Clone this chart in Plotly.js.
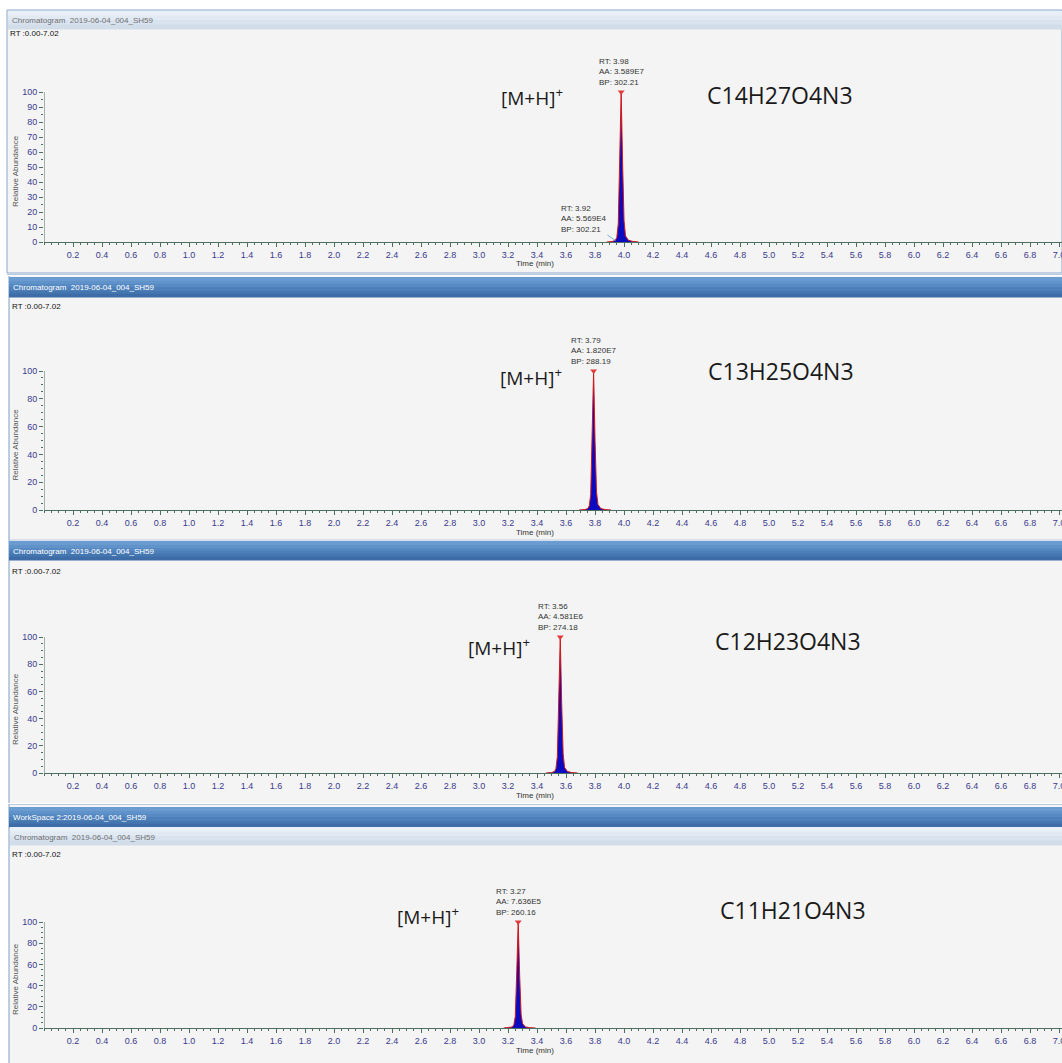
<!DOCTYPE html>
<html><head><meta charset="utf-8">
<script src="https://cdn.plot.ly/plotly-3.0.1.min.js"></script>
<style>html,body{margin:0;padding:0;background:#fff;overflow:hidden}#chart{width:1062px;height:1063px}</style>
</head><body><div id="chart"></div>
<script>
// ---------------- data ----------------
const formulas = ['C14H27O4N3', 'C13H25O4N3', 'C12H23O4N3', 'C11H21O4N3'];
const peakRT = [3.98, 3.79, 3.56, 3.27];
const peakAA = ['3.589E7', '1.820E7', '4.581E6', '7.636E5'];
const peakBP = ['302.21', '288.19', '274.18', '260.16'];
const peakTop = [100, 100, 100, 100];

const time1 = [3.88, 3.92, 3.94, 3.95, 3.96, 3.97, 3.98, 3.99, 4.00, 4.01, 4.03, 4.06, 4.10];
const abund1 = [0, 0.4, 1.2, 3, 12, 55, 100, 52, 14, 4, 1.2, 0.4, 0];
const time2 = [3.69, 3.73, 3.75, 3.76, 3.77, 3.78, 3.79, 3.80, 3.81, 3.82, 3.84, 3.87, 3.91];
const abund2 = [0, 0.3, 1.0, 3, 11, 52, 100, 50, 13, 4, 1.0, 0.3, 0];
const time3 = [3.46, 3.50, 3.52, 3.53, 3.54, 3.55, 3.56, 3.57, 3.58, 3.59, 3.61, 3.64, 3.68];
const abund3 = [0, 0.3, 1.1, 3, 12, 54, 100, 51, 14, 4, 1.1, 0.3, 0];
const time4 = [3.17, 3.21, 3.23, 3.24, 3.25, 3.26, 3.27, 3.28, 3.29, 3.30, 3.32, 3.35, 3.39];
const abund4 = [0, 0.3, 1.0, 3, 11, 53, 100, 50, 13, 4, 1.0, 0.3, 0];

const minorRT = 3.92, minorAA = '5.569E4', minorBP = '302.21';

const xTickVals = [0.2,0.4,0.6,0.8,1.0,1.2,1.4,1.6,1.8,2.0,2.2,2.4,2.6,2.8,3.0,3.2,3.4,3.6,3.8,4.0,4.2,4.4,4.6,4.8,5.0,5.2,5.4,5.6,5.8,6.0,6.2,6.4,6.6,6.8,7.0];
const xTickText = ['0.2','0.4','0.6','0.8','1.0','1.2','1.4','1.6','1.8','2.0','2.2','2.4','2.6','2.8','3.0','3.2','3.4','3.6','3.8','4.0','4.2','4.4','4.6','4.8','5.0','5.2','5.4','5.6','5.8','6.0','6.2','6.4','6.6','6.8','7.0'];
const yTicks10 = [0,10,20,30,40,50,60,70,80,90,100];
const yTicks20 = [0,20,40,60,80,100];
const yMinor = [5,10,15,20,25,30,35,40,45,50,55,60,65,70,75,80,85,90,95];
const headerTitle = 'Chromatogram\u00a0 2019-06-04_004_SH59';
const workspaceTitle = 'WorkSpace 2:2019-06-04_004_SH59';
const rtRange = 'RT :0.00-7.02';

// ---------------- layout geometry (pixels) ----------------
const W = 1062, H = 1063;
const px = x => x / W;
const py = y => 1 - y / H;

const times = [time1, time2, time3, time4];
const abunds = [abund1, abund2, abund3, abund4];
const plotTop = [50, 322, 586, 870];
const plotZero = [242, 510, 773, 1028];
const px100 = [92, 371, 637, 922];
const yTickSets = [yTicks10, yTicks20, yTicks20, yTicks20];
const mhPos = [[3.14, 97], [3.13, 96], [2.91, 93], [2.42, 106]];
const fmPos = [[4.56, 98], [4.565, 100], [4.61, 97], [4.65, 111]];

const axisCol = '#4d6f60';
const tickFont = {family: 'Liberation Sans, Arial', size: 9, color: '#3a3a8e'};

const traces = [];
const layout = {
  width: W, height: H,
  margin: {l: 0, r: 0, t: 0, b: 0},
  paper_bgcolor: '#ffffff',
  plot_bgcolor: '#ebebeb',
  showlegend: false,
  shapes: [], annotations: []
};

function rect(x0, y0, x1, y1, fill, line) {
  layout.shapes.push({type: 'rect', xref: 'paper', yref: 'paper', layer: 'below',
    x0: px(x0), x1: px(x1), y0: py(y1), y1: py(y0),
    fillcolor: fill, line: line ? {color: line, width: 1} : {width: 0}});
}
function hline(x0, x1, y, col) {
  layout.shapes.push({type: 'line', xref: 'paper', yref: 'paper', layer: 'below',
    x0: px(x0), x1: px(x1), y0: py(y), y1: py(y), line: {color: col, width: 1}});
}
function vline(x, y0, y1, col) {
  layout.shapes.push({type: 'line', xref: 'paper', yref: 'paper', layer: 'below',
    x0: px(x), x1: px(x), y0: py(y0), y1: py(y1), line: {color: col, width: 1}});
}
function darkBar(y0, y1) {
  const n = 6, cols = ['#6a9bd1', '#6193cb', '#578ac3', '#4d80ba', '#4476b0', '#3d6ca6'];
  const h = (y1 - y0) / n;
  for (let i = 0; i < n; i++) rect(9, y0 + i * h, W, y0 + (i + 1) * h + 0.5, cols[i]);
}
function lightBar(x0, y0, y1) {
  const n = 4, cols = ['#e9eff7', '#e1e9f3', '#d9e3ef', '#d2ddea'];
  const h = (y1 - y0) / n;
  for (let i = 0; i < n; i++) rect(x0, y0 + i * h, W, y0 + (i + 1) * h + 0.5, cols[i]);
}
function textPx(x, y, text, font, xanchor) {
  layout.annotations.push({xref: 'paper', yref: 'paper', x: px(x), y: py(y), text: text,
    showarrow: false, xanchor: xanchor || 'left', yanchor: 'middle', font: font});
}

// ---------------- panel chrome ----------------
const hdrFontGray = {family: 'Liberation Sans, Arial', size: 8, color: '#707070'};
const hdrFontWhite = {family: 'Liberation Sans, Arial', size: 8, color: '#ffffff'};
const rtFont = {family: 'Liberation Sans, Arial', size: 8, color: '#111111'};

// panel 1
rect(7, 10, W, 273, '#f4f4f4', '#8aa8cc');
lightBar(8, 11, 29);
textPx(10, 20, headerTitle, hdrFontGray);
textPx(8, 34, rtRange, rtFont);
// panel 2
rect(9, 276, W, 540, '#f4f4f4');
vline(9, 276, 540, '#7f9fc6');
hline(7, W, 274.5, '#b9cbe0');
darkBar(277, 297);
textPx(11, 288, headerTitle, hdrFontWhite);
textPx(10, 306, rtRange, rtFont);
// panel 3
rect(9, 540, W, 803, '#f4f4f4');
vline(9, 540, 803, '#7f9fc6');
hline(9, W, 540, '#b9cbe0');
darkBar(541, 560);
textPx(11, 551, headerTitle, hdrFontWhite);
textPx(10, 571, rtRange, rtFont);
// panel 4
rect(9, 804, W, H, '#f4f4f4');
vline(9, 804, H, '#7f9fc6');
hline(9, W, 804.5, '#b9cbe0');
darkBar(807, 827);
textPx(11, 817, workspaceTitle, hdrFontWhite);
lightBar(10, 827, 845);
textPx(12, 837, headerTitle, hdrFontGray);
textPx(10, 854, rtRange, rtFont);

// ---------------- subplots ----------------
for (let i = 0; i < 4; i++) {
  const k = i === 0 ? '' : String(i + 1);
  const xa = 'x' + k, ya = 'y' + k;
  const yTop = (plotZero[i] - plotTop[i]) / ((plotZero[i] - px100[i]) / 100);

  layout['xaxis' + k] = {
    domain: [px(44), 1], range: [0, 7.02], anchor: ya,
    showgrid: false, zeroline: false, showline: true, linecolor: axisCol, linewidth: 1,
    tickmode: 'array', tickvals: xTickVals, ticktext: xTickText,
    ticks: 'outside', ticklen: 4, tickcolor: axisCol, tickwidth: 1,
    ticklabeloverflow: 'allow',
    minor: {dtick: 0.05, tick0: 0, ticks: 'outside', ticklen: 2, tickcolor: axisCol, showgrid: false},
    tickfont: tickFont, fixedrange: true
  };
  layout['yaxis' + k] = {
    domain: [py(plotZero[i]), py(plotTop[i])], range: [0, yTop], anchor: xa,
    showgrid: false, zeroline: false, showline: false,
    tickmode: 'array', tickvals: yTickSets[i],
    ticks: 'outside', ticklen: 4, tickcolor: axisCol, tickwidth: 1,
    minor: {tickmode: 'array', tickvals: yMinor, ticks: 'outside', ticklen: 2, tickcolor: axisCol, showgrid: false},
    tickfont: tickFont, fixedrange: true
  };
  layout.shapes.push({type: 'line', xref: xa, yref: ya, x0: 0, x1: 0, y0: 0, y1: 100,
    line: {color: axisCol, width: 1}});

  traces.push({
    type: 'scatter', mode: 'lines', x: times[i], y: abunds[i], xaxis: xa, yaxis: ya,
    fill: 'tozeroy', fillcolor: '#0a0ac0', line: {color: '#d41818', width: 1}, hoverinfo: 'x+y'
  });
  traces.push({
    type: 'scatter', mode: 'markers', x: [peakRT[i]], y: [peakTop[i]], xaxis: xa, yaxis: ya,
    marker: {symbol: 'triangle-down', size: 6, color: '#e23a3a'}, cliponaxis: false
  });

  layout.annotations.push({xref: xa, yref: ya, x: peakRT[i], y: peakTop[i], yshift: 3,
    text: 'RT: ' + peakRT[i].toFixed(2) + '<br>AA: ' + peakAA[i] + '<br>BP: ' + peakBP[i],
    showarrow: false, xanchor: 'center', yanchor: 'bottom', align: 'left',
    font: {family: 'Liberation Sans, Arial', size: 8, color: '#333333'}});
  layout.annotations.push({xref: xa, yref: ya, x: mhPos[i][0], y: mhPos[i][1],
    text: '[M+H]<sup>+</sup>', showarrow: false, xanchor: 'left', yanchor: 'middle',
    font: {family: 'Open Sans', size: 19, color: '#1a1a1a'}});
  layout.annotations.push({xref: xa, yref: ya, x: fmPos[i][0], y: fmPos[i][1],
    text: formulas[i], showarrow: false, xanchor: 'left', yanchor: 'middle',
    font: {family: 'Open Sans', size: 23, color: '#1a1a1a'}});
  const midY = (plotZero[i] + px100[i]) / 2 + 4;
  layout.annotations.push({xref: 'paper', yref: 'paper', x: px(15), y: py(midY),
    text: 'Relative Abundance', textangle: -90, showarrow: false,
    xanchor: 'center', yanchor: 'middle',
    font: {family: 'Liberation Sans, Arial', size: 8, color: '#555555'}});
  textPx(535, plotZero[i] + 22, 'Time (min)', {family: 'Liberation Sans, Arial', size: 8, color: '#333333'}, 'center');
}

layout.annotations.push({xref: 'x', yref: 'y', x: 3.94, y: 1, ax: -32, ay: -22,
  text: 'RT: ' + minorRT.toFixed(2) + '<br>AA: ' + minorAA + '<br>BP: ' + minorBP,
  showarrow: true, arrowhead: 0, arrowwidth: 1, arrowcolor: '#7fb0e0', align: 'left',
  font: {family: 'Liberation Sans, Arial', size: 8, color: '#333333'}});

Plotly.newPlot('chart', traces, layout, {displayModeBar: false, staticPlot: true});
</script>
</body></html>
